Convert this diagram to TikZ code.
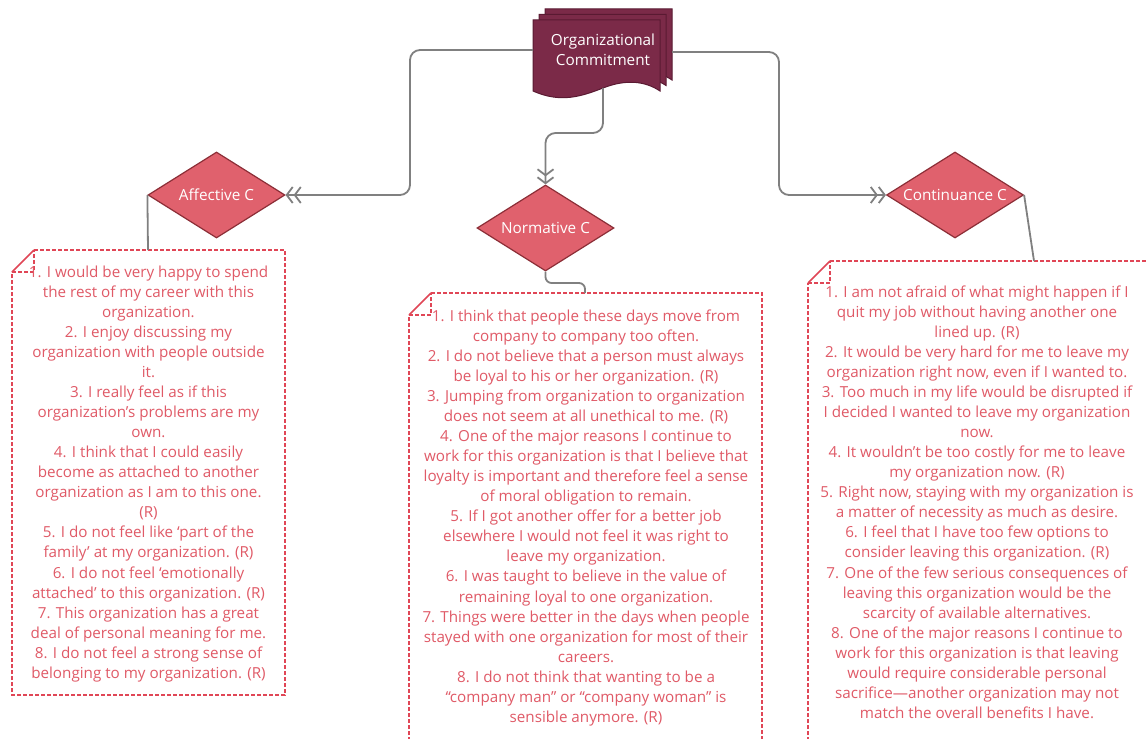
\documentclass[tikz,border=0pt]{standalone}
\usepackage{fontspec}
\setmainfont{Open Sans}
\usetikzlibrary{shapes.geometric,arrows.meta}
\definecolor{docfill}{HTML}{7B2A48}
\definecolor{docborder}{HTML}{5A1A32}
\definecolor{diafill}{HTML}{E0616D}
\definecolor{diaborder}{HTML}{8C2E37}
\definecolor{notetxt}{HTML}{E05A67}
\definecolor{notered}{HTML}{E04656}
\definecolor{linegray}{HTML}{808080}
\begin{document}
\begin{tikzpicture}[x=1pt,y=-1pt,
  conn/.style={draw=linegray, line width=1.8pt, rounded corners=10pt},
  dbl/.style={-{Straight Barb[length=6pt,width=16pt] Straight Barb[length=6pt,width=16pt]}},
  dia/.style={diamond, aspect=1.593, minimum width=137pt, minimum height=86pt, inner sep=0pt,
    fill=diafill, draw=diaborder, line width=1.2pt, text=white, font=\fontsize{15.3}{18}\selectfont},
  docshape/.style={fill=docfill, draw=docborder, line width=1pt},
  notebox/.style={draw=notered, line width=1.5pt, dash pattern=on 4pt off 2pt},
  notetext/.style={text=notetxt, align=center, font=\fontsize{15.2}{20.05}\selectfont, inner sep=0pt, anchor=north}]
\useasboundingbox (0,0) rectangle (1147,738);
\clip (0,0) rectangle (1147,738);
\fill[white] (0,0) rectangle (1147,738);

% document stack
\foreach \dx/\dy in {12/11, 6/5.5, 0/0} {
  \draw[docshape, shift={(\dx pt,\dy pt)}] (533,20) -- (660,20) -- (660,91)
    .. controls (645,81) and (626,79) .. (603,88)
    .. controls (580,97) and (560,103) .. (533,91) -- cycle;
}
\node[text=white, align=center, font=\fontsize{15.3}{20}\selectfont, inner sep=0pt] (org) at (603,50) {Organizational\\Commitment};
\coordinate (orgL) at (533,50);
\coordinate (orgR) at (672,52);
\coordinate (orgB) at (603,88);

% diamonds
\node[dia] (aff) at (216.5,195) {Affective C};
\node[dia] (norm) at (545.5,228) {Normative C};
\node[dia] (cont) at (955,195) {Continuance C};

% connectors
\draw[conn, dbl] (orgL) -- (410,50) -- (410,195) -- (aff.east);
\draw[conn, dbl] (orgB) -- (603,133) -- (545.5,133) -- (norm.north);
\draw[conn, dbl] (orgR) -- (779,52) -- (779,195) -- (cont.west);

% note boxes
\coordinate (boxA) at (148,250);
\coordinate (boxN) at (585,293);
\coordinate (boxC) at (1034,261);
\draw[notebox] (34,250) -- (285,250) -- (285,695) -- (12,695) -- (12,272);
\draw[notebox] (12,272) -- (34,272) -- (34,250);
\draw[draw=notered, line width=1.5pt] (12,272) -- (34,250);
\draw[notebox] (431,293) -- (762,293) -- (762,760) -- (409,760) -- (409,315);
\draw[notebox] (409,315) -- (431,315) -- (431,293);
\draw[draw=notered, line width=1.5pt] (409,315) -- (431,293);
\draw[notebox] (830,261) -- (1160,261) -- (1160,760) -- (808,760) -- (808,283);
\draw[notebox] (808,283) -- (830,283) -- (830,261);
\draw[draw=notered, line width=1.5pt] (808,283) -- (830,261);

\draw[conn] (aff.west) -- (boxA);
\draw[conn, rounded corners=6pt] (norm.south) -- (545.5,283) -- (585,283) -- (boxN);
\draw[conn] (cont.east) -- (boxC);

% texts
\node[notetext] (tA) at (148.5,265.5) {1. I would be very happy to spend\\
the rest of my career with this\\
organization.\\
2. I enjoy discussing my\\
organization with people outside\\
it.\\
3. I really feel as if this\\
organization’s problems are my\\
own.\\
4. I think that I could easily\\
become as attached to another\\
organization as I am to this one.\\
(R)\\
5. I do not feel like ‘part of the\\
family’ at my organization. (R)\\
6. I do not feel ‘emotionally\\
attached’ to this organization. (R)\\
7. This organization has a great\\
deal of personal meaning for me.\\
8. I do not feel a strong sense of\\
belonging to my organization. (R)};

\node[notetext] (tN) at (586,309.5) {1. I think that people these days move from\\
company to company too often.\\
2. I do not believe that a person must always\\
be loyal to his or her organization. (R)\\
3. Jumping from organization to organization\\
does not seem at all unethical to me. (R)\\
4. One of the major reasons I continue to\\
work for this organization is that I believe that\\
loyalty is important and therefore feel a sense\\
of moral obligation to remain.\\
5. If I got another offer for a better job\\
elsewhere I would not feel it was right to\\
leave my organization.\\
6. I was taught to believe in the value of\\
remaining loyal to one organization.\\
7. Things were better in the days when people\\
stayed with one organization for most of their\\
careers.\\
8. I do not think that wanting to be a\\
“company man” or “company woman” is\\
sensible anymore. (R)};

\node[notetext] (tC) at (977,285.5) {1. I am not afraid of what might happen if I\\
quit my job without having another one\\
lined up. (R)\\
2. It would be very hard for me to leave my\\
organization right now, even if I wanted to.\\
3. Too much in my life would be disrupted if\\
I decided I wanted to leave my organization\\
now.\\
4. It wouldn’t be too costly for me to leave\\
my organization now. (R)\\
5. Right now, staying with my organization is\\
a matter of necessity as much as desire.\\
6. I feel that I have too few options to\\
consider leaving this organization. (R)\\
7. One of the few serious consequences of\\
leaving this organization would be the\\
scarcity of available alternatives.\\
8. One of the major reasons I continue to\\
work for this organization is that leaving\\
would require considerable personal\\
sacrifice—another organization may not\\
match the overall benefits I have.};
\end{tikzpicture}
\end{document}
